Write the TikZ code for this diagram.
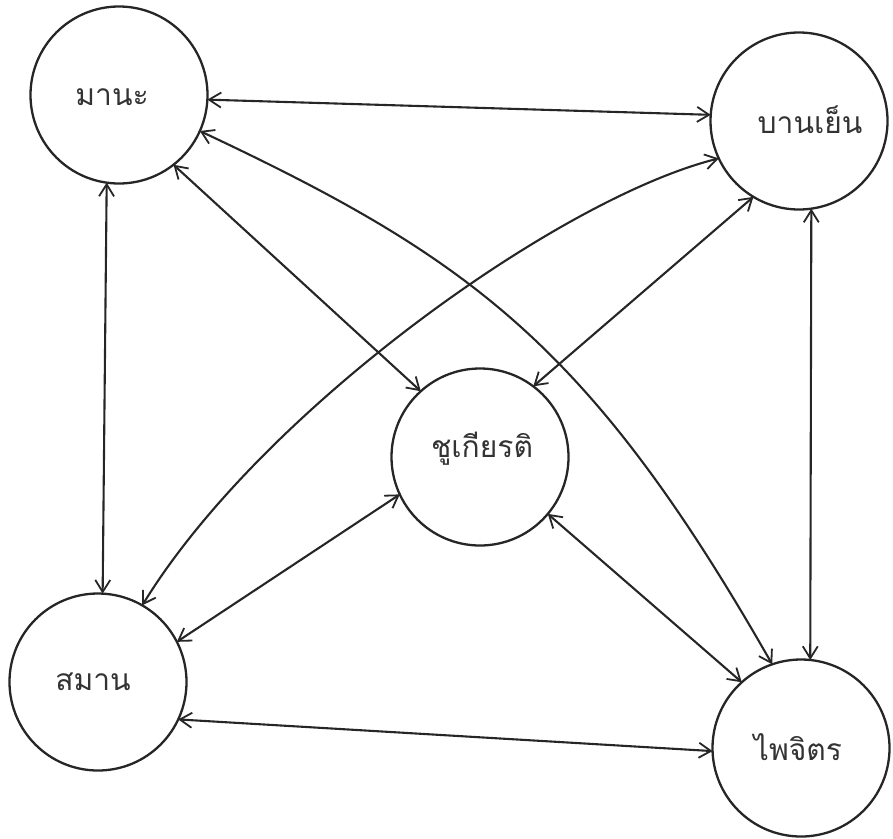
\documentclass[tikz,border=0pt]{standalone}
\usepackage{fontspec}
\newfontfamily\thaifont[Script=Thai]{Loma}
\usetikzlibrary{arrows.meta}
\begin{document}
\begin{tikzpicture}[x=1pt,y=-1pt,
  person/.style={draw=black!85, line width=2.3pt, circle, minimum size=177pt, inner sep=0pt, outer sep=0pt},
  persontext/.style={font=\thaifont\fontsize{30}{36}\selectfont, text=black!80, inner sep=0pt},
  link/.style={draw=black!85, line width=2.1pt, {Straight Barb[length=12pt,width=15pt,line width=1.8pt]}-{Straight Barb[length=12pt,width=15pt,line width=1.8pt]}}]
\useasboundingbox (0,0) rectangle (893,838);
\node[person] (mana)   at (119,95)  {};
\node[person] (banyen) at (799,121) {};
\node[person] (chu)    at (480,457) {};
\node[person] (saman)  at (98,682)  {};
\node[person] (paijit) at (801,748) {};
\node[persontext] (manat)   at (112,97)  {มานะ};
\node[persontext] (banyent) at (810,120) {บานเย็น};
\node[persontext] (chut)    at (482,449) {ชูเกียรติ};
\node[persontext] (samant)  at (93,682)  {สมาน};
\node[persontext] (paijitt) at (798,747) {ไพจิตร};
% control points of the two curved links
\coordinate (c1) at (470,258);
\coordinate (c2) at (590,345);
\coordinate (c3) at (560,198);
\coordinate (c4) at (262,410);
% straight links
\draw[link] (mana.-3) -- (banyen.176);
\draw[link] (mana.-98) -- (saman.87);
\draw[link] (mana.-52) -- (chu.132);
\draw[link] (banyen.-121) -- (chu.53);
\draw[link] (banyen.-82) -- (paijit.84);
\draw[link] (chu.205) -- (saman.27);
\draw[link] (chu.-40) -- (paijit.132);
\draw[link] (saman.-25) -- (paijit.182);
% curved links
\draw[link] (mana.-24) .. controls (c1) and (c2) .. (paijit.109);
\draw[link] (banyen.205) .. controls (c3) and (c4) .. (saman.60);
\end{tikzpicture}
\end{document}
